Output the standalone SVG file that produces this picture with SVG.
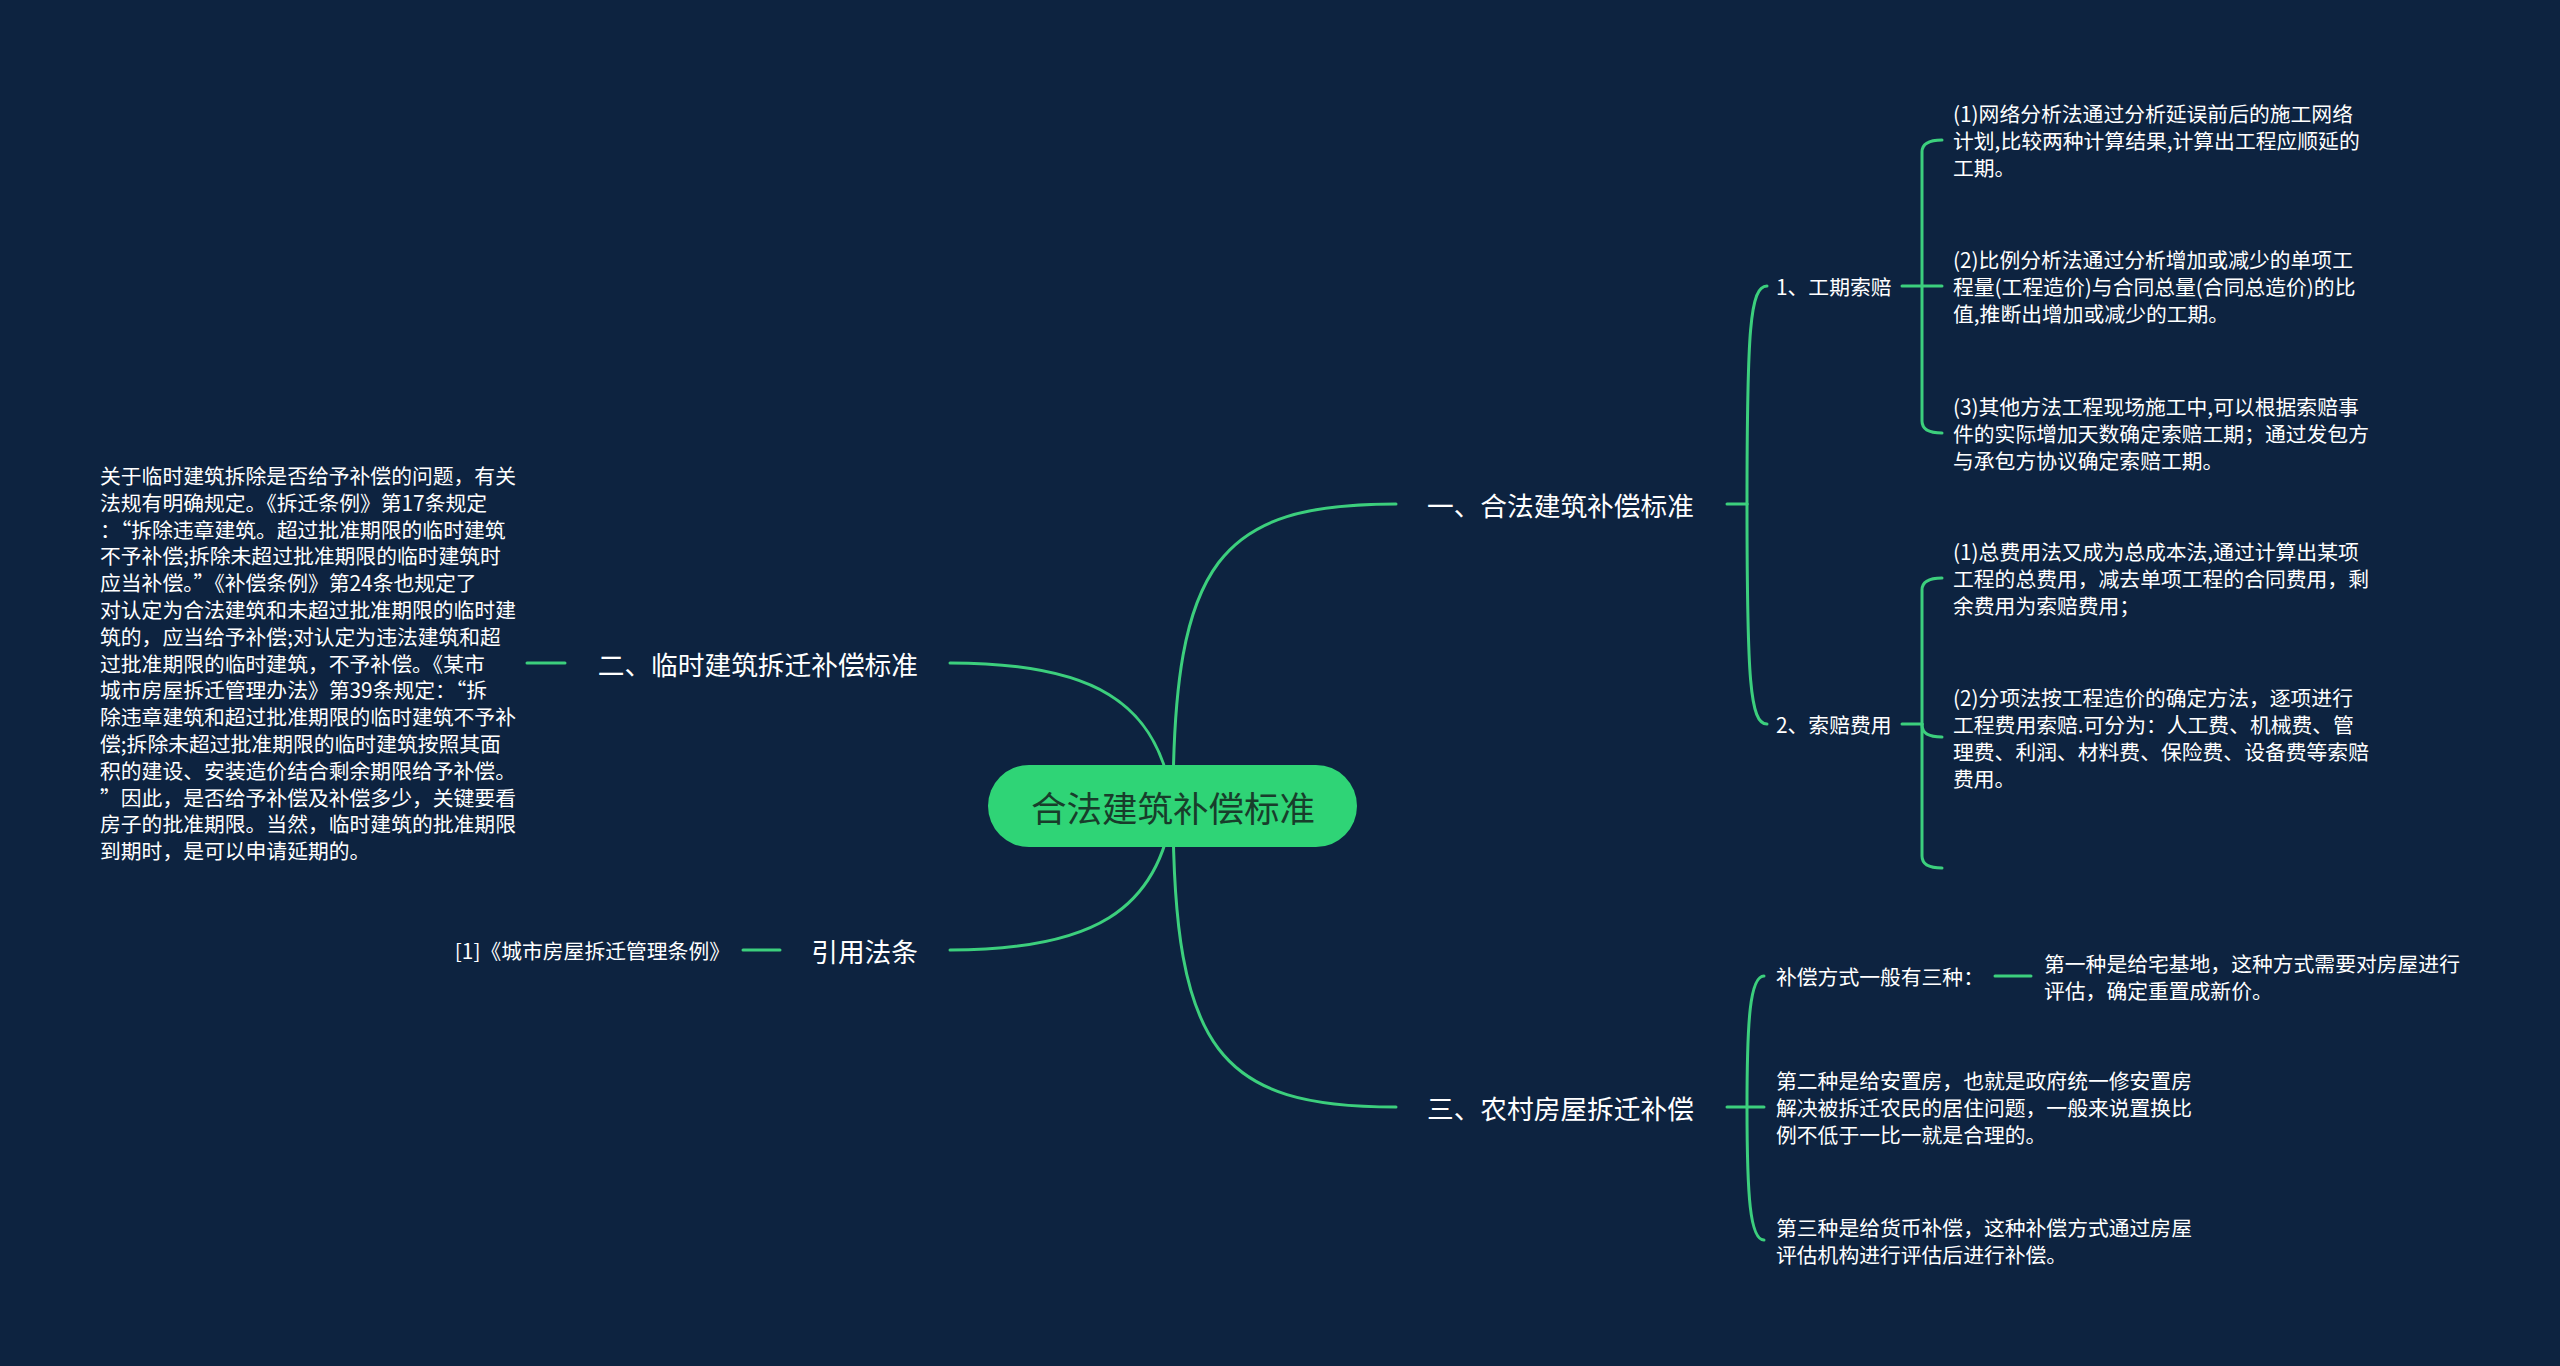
<svg xmlns="http://www.w3.org/2000/svg" width="2560" height="1366" viewBox="0 0 2560 1366">
<style>
.bg{fill:#0d2340}
.ln{fill:none;stroke:#3ccf7d;stroke-width:3;stroke-linecap:round}
.t{font-family:"Noto Sans CJK SC","Microsoft YaHei",sans-serif;fill:#ffffff;dominant-baseline:central}
.b1{font-size:26.7px}
.s{font-size:20.8px}
.q{font-feature-settings:"fwid" 1}
.root{font-family:"Noto Sans CJK SC",sans-serif;font-size:35.5px;fill:#183d2b;dominant-baseline:central;text-anchor:middle}
</style>
<rect class="bg" x="0" y="0" width="2560" height="1366"/>
<g id="connectors">
  <path class="ln" d="M1173,806 C1173,560 1220,504 1396,504"/>
  <path class="ln" d="M1173,806 C1173,1052 1220,1107 1396,1107"/>
  <path class="ln" d="M1173,806 C1160,700 1090,663 950,663"/>
  <path class="ln" d="M1173,806 C1160,912 1090,950 950,950"/>
  <path class="ln" d="M1727,504 H1747"/>
  <path class="ln" d="M1747,504 C1747,330 1750,286 1767,286"/>
  <path class="ln" d="M1747,504 C1747,680 1750,724 1767,724"/>
  <path class="ln" d="M1902,286 H1942"/>
  <path class="ln" d="M1922,286 V152 Q1922,140 1942,140"/>
  <path class="ln" d="M1922,286 V421 Q1922,433 1942,433"/>
  <path class="ln" d="M1902,724 H1922"/>
  <path class="ln" d="M1922,724 V590 Q1922,578 1942,578"/>
  <path class="ln" d="M1922,724 V725 Q1922,737 1942,737"/>
  <path class="ln" d="M1922,724 V856 Q1922,868 1942,868"/>
  <path class="ln" d="M1727,1107 H1764"/>
  <path class="ln" d="M1747,1107 C1747,1020 1750,976 1764,976"/>
  <path class="ln" d="M1747,1107 C1747,1196 1750,1240 1764,1240"/>
  <path class="ln" d="M1995,976 H2031"/>
  <path class="ln" d="M527,663 H565"/>
  <path class="ln" d="M743,950 H780"/>
</g>
<g id="root">
  <rect x="988" y="765" width="369" height="82" rx="41" fill="#2fd476"/>
  <text class="root" x="1173" y="806">合法建筑补偿标准</text>
</g>
<g id="n1">
  <text class="t b1" x="1427" y="504">一、合法建筑补偿标准</text>
</g>
<g id="n1-1">
  <text class="t s" x="1776" y="286">1、工期索赔</text>
</g>
<g id="n1-1-1">
  <text class="t s" x="1953" y="113">(1)网络分析法通过分析延误前后的施工网络</text>
  <text class="t s" x="1953" y="140">计划,比较两种计算结果,计算出工程应顺延的</text>
  <text class="t s" x="1953" y="167">工期。</text>
</g>
<g id="n1-1-2">
  <text class="t s" x="1953" y="259">(2)比例分析法通过分析增加或减少的单项工</text>
  <text class="t s" x="1953" y="286">程量(工程造价)与合同总量(合同总造价)的比</text>
  <text class="t s" x="1953" y="313">值,推断出增加或减少的工期。</text>
</g>
<g id="n1-1-3">
  <text class="t s" x="1953" y="406">(3)其他方法工程现场施工中,可以根据索赔事</text>
  <text class="t s" x="1953" y="433">件的实际增加天数确定索赔工期；通过发包方</text>
  <text class="t s" x="1953" y="460">与承包方协议确定索赔工期。</text>
</g>
<g id="n1-2">
  <text class="t s" x="1776" y="724">2、索赔费用</text>
</g>
<g id="n1-2-1">
  <text class="t s" x="1953" y="551">(1)总费用法又成为总成本法,通过计算出某项</text>
  <text class="t s" x="1953" y="578">工程的总费用，减去单项工程的合同费用，剩</text>
  <text class="t s" x="1953" y="605">余费用为索赔费用；</text>
</g>
<g id="n1-2-2">
  <text class="t s" x="1953" y="697">(2)分项法按工程造价的确定方法，逐项进行</text>
  <text class="t s" x="1953" y="724">工程费用索赔.可分为：人工费、机械费、管</text>
  <text class="t s" x="1953" y="751">理费、利润、材料费、保险费、设备费等索赔</text>
  <text class="t s" x="1953" y="778">费用。</text>
</g>
<g id="n3">
  <text class="t b1" x="1427" y="1107">三、农村房屋拆迁补偿</text>
</g>
<g id="n3-1">
  <text class="t s" x="1776" y="976">补偿方式一般有三种：</text>
</g>
<g id="n3-1-1">
  <text class="t s" x="2044" y="963">第一种是给宅基地，这种方式需要对房屋进行</text>
  <text class="t s" x="2044" y="990">评估，确定重置成新价。</text>
</g>
<g id="n3-2">
  <text class="t s" x="1776" y="1080">第二种是给安置房，也就是政府统一修安置房</text>
  <text class="t s" x="1776" y="1107">解决被拆迁农民的居住问题，一般来说置换比</text>
  <text class="t s" x="1776" y="1134">例不低于一比一就是合理的。</text>
</g>
<g id="n3-3">
  <text class="t s" x="1776" y="1227">第三种是给货币补偿，这种补偿方式通过房屋</text>
  <text class="t s" x="1776" y="1254">评估机构进行评估后进行补偿。</text>
</g>
<g id="n2">
  <text class="t b1" x="918" y="663" text-anchor="end">二、临时建筑拆迁补偿标准</text>
</g>
<g id="n2-1">
  <text class="t s" x="100" y="475">关于临时建筑拆除是否给予补偿的问题，有关</text>
  <text class="t s" x="100" y="502">法规有明确规定。《拆迁条例》第17条规定</text>
  <text class="t s" x="100" y="529">：<tspan class="q">“</tspan>拆除违章建筑。超过批准期限的临时建筑</text>
  <text class="t s" x="100" y="555">不予补偿;拆除未超过批准期限的临时建筑时</text>
  <text class="t s" x="100" y="582">应当补偿。<tspan class="q">”</tspan>《补偿条例》第24条也规定了</text>
  <text class="t s" x="100" y="609">对认定为合法建筑和未超过批准期限的临时建</text>
  <text class="t s" x="100" y="636">筑的，应当给予补偿;对认定为违法建筑和超</text>
  <text class="t s" x="100" y="663">过批准期限的临时建筑，不予补偿。《某市</text>
  <text class="t s" x="100" y="689">城市房屋拆迁管理办法》第39条规定：<tspan class="q">“</tspan>拆</text>
  <text class="t s" x="100" y="716">除违章建筑和超过批准期限的临时建筑不予补</text>
  <text class="t s" x="100" y="743">偿;拆除未超过批准期限的临时建筑按照其面</text>
  <text class="t s" x="100" y="770">积的建设、安装造价结合剩余期限给予补偿。</text>
  <text class="t s" x="100" y="797"><tspan class="q">”</tspan>因此，是否给予补偿及补偿多少，关键要看</text>
  <text class="t s" x="100" y="823">房子的批准期限。当然，临时建筑的批准期限</text>
  <text class="t s" x="100" y="850">到期时，是可以申请延期的。</text>
</g>
<g id="n4">
  <text class="t b1" x="918" y="950" text-anchor="end">引用法条</text>
</g>
<g id="n4-1">
  <text class="t s" x="730" y="950" text-anchor="end">[1]《城市房屋拆迁管理条例》</text>
</g>
</svg>
